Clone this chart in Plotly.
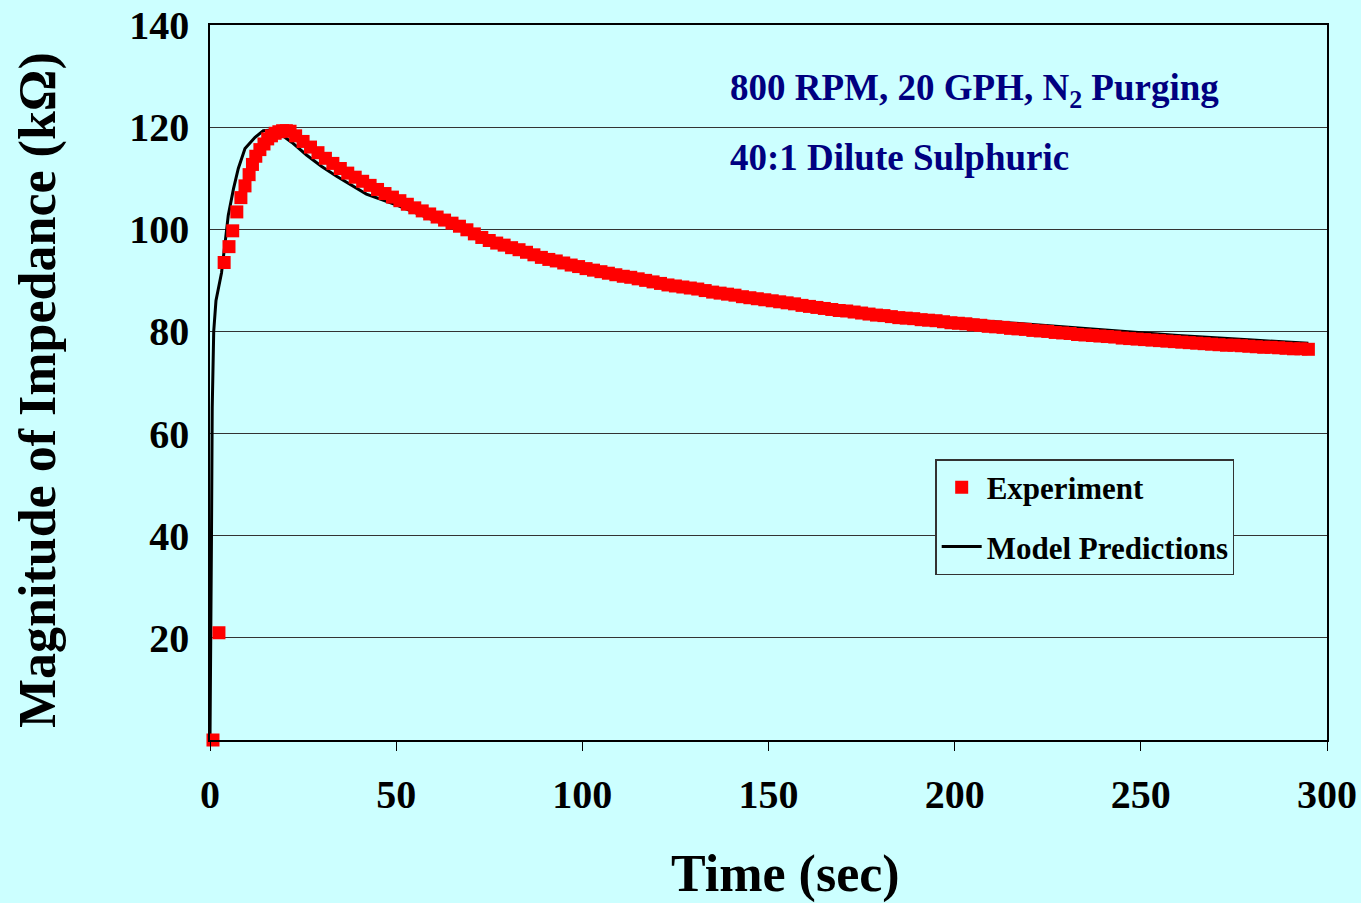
import plotly.graph_objects as go

# Measured impedance magnitude (kOhm) vs time (s)
exp_time = [0.8, 2.4, 3.8, 5.1, 6.1, 7.2, 8.3, 9.4, 10.5, 11.4, 12.3, 13.4, 14.5, 15.5,
            16.5, 17.5, 18.5, 19.5, 20.5, 21.5,
            23, 25, 27, 29, 31, 33, 35, 37, 39, 41, 43, 45, 47, 49, 51, 53, 55, 57, 59,
            61, 63, 65, 67, 69, 71, 73, 75, 77, 79, 81, 83, 85, 87, 89, 91, 93, 95, 97, 99,
            101, 103, 105, 107, 109, 111, 113, 115, 117, 119, 121, 123, 125, 127, 129,
            131, 133, 135, 137, 139, 141, 143, 145, 147, 149, 151, 153, 155, 157, 159,
            161, 163, 165, 167, 169, 171, 173, 175, 177, 179, 181, 183, 185, 187, 189,
            191, 193, 195, 197, 199, 201, 203, 205, 207, 209, 211, 213, 215, 217, 219,
            221, 223, 225, 227, 229, 231, 233, 235, 237, 239, 241, 243, 245, 247, 249,
            251, 253, 255, 257, 259, 261, 263, 265, 267, 269, 271, 273, 275, 277, 279,
            281, 283, 285, 287, 289, 291, 293, 295]
exp_impedance = [0.0, 21.0, 93.5, 96.6, 99.7, 103.4, 106.2, 108.5, 110.7, 112.7, 114.3, 115.6, 116.7, 117.7,
                 118.3, 118.8, 119.1, 119.3, 119.3, 119.2,
                 118.3, 117.2, 116.1, 115.0, 113.9, 112.9, 111.9, 111.0, 110.2, 109.4, 108.6, 107.8, 107.0, 106.3, 105.6, 104.9, 104.2, 103.6, 103.0,
                 102.4, 101.8, 101.2, 100.6, 99.9, 99.1, 98.4, 97.8, 97.3, 96.9, 96.4, 96.0, 95.5, 95.0, 94.5, 94.1, 93.8, 93.4, 93.0, 92.7,
                 92.3, 92.0, 91.7, 91.4, 91.1, 90.8, 90.6, 90.3, 90.0, 89.7, 89.4, 89.1, 88.9, 88.7, 88.5,
                 88.3, 88.0, 87.7, 87.5, 87.3, 87.1, 86.8, 86.6, 86.4, 86.2, 86.0, 85.8, 85.6, 85.4, 85.1,
                 84.9, 84.7, 84.5, 84.3, 84.1, 84.0, 83.8, 83.6, 83.4, 83.2, 83.1, 82.9, 82.7, 82.6, 82.5,
                 82.3, 82.2, 82.1, 81.9, 81.7, 81.6, 81.5, 81.3, 81.2, 81.0, 80.9, 80.8, 80.6, 80.5, 80.4,
                 80.2, 80.1, 80.0, 79.8, 79.7, 79.6, 79.4, 79.3, 79.2, 79.1, 79.0, 78.9, 78.7, 78.6, 78.5,
                 78.4, 78.3, 78.2, 78.1, 78.0, 77.9, 77.8, 77.7, 77.6, 77.5, 77.4, 77.3, 77.3, 77.2, 77.1,
                 77.0, 76.9, 76.9, 76.8, 76.7, 76.6, 76.6, 76.5]

# Model prediction curve
model_time = [0, 0.2, 0.4, 0.6, 1.0, 1.6, 2.5, 3.1, 4.0, 4.9, 6.3, 7.6, 9.4, 12.1, 14.3,
              17.5, 19.0, 22.0, 26, 30, 34, 38, 42, 50, 60, 70, 80, 90, 100, 120, 140,
              160, 180, 200, 220, 240, 260, 280, 295]
model_impedance = [0, 15, 40, 65, 80, 86, 89, 91.5, 97, 102.7, 107.9, 111.9, 115.8, 118.0, 119.3,
                   119.5, 118.6, 117.0, 114.5, 112.3, 110.4, 108.6, 106.9, 104.8, 101.8, 99.2, 96.7, 94.4, 92.5, 89.8, 87.4,
                   85.3, 83.7, 82.5, 81.4, 80.3, 79.2, 78.3, 77.7]

x_ticks = [0, 50, 100, 150, 200, 250, 300]
y_ticks = [20, 40, 60, 80, 100, 120, 140]

BG = "#CCFFFF"
SERIF = "Liberation Serif"

fig = go.Figure()

fig.add_trace(go.Scatter(
    x=model_time, y=model_impedance, mode="lines", name="Model Predictions",
    line=dict(color="black", width=3), legendrank=2, legendgroup="model",
))
fig.add_trace(go.Scatter(
    x=exp_time, y=exp_impedance, mode="markers", name="Experiment",
    marker=dict(symbol="square", size=13, color="#FF0000", line=dict(width=0)),
    cliponaxis=False, legendrank=1, legendgroup="exp",
))

fig.add_annotation(
    x=0.4637, y=0.909, xref="paper", yref="paper", xanchor="left", yanchor="middle",
    text="800 RPM, 20 GPH, N<sub>2</sub> Purging", showarrow=False,
    font=dict(family=SERIF, size=37, color="#000080", weight="bold"),
)
fig.add_annotation(
    x=0.4637, y=0.815, xref="paper", yref="paper", xanchor="left", yanchor="middle",
    text="40:1 Dilute Sulphuric", showarrow=False,
    font=dict(family=SERIF, size=37, color="#000080", weight="bold"),
)

# Axis titles
fig.add_annotation(
    x=0.5148, y=-0.187, xref="paper", yref="paper", xanchor="center", yanchor="middle",
    text="Time (sec)", showarrow=False,
    font=dict(family=SERIF, size=52, color="black", weight="bold"),
)
fig.add_annotation(
    x=-0.154, y=0.4895, xref="paper", yref="paper", xanchor="center", yanchor="middle",
    text="Magnitude of Impedance (kΩ)", showarrow=False, textangle=-90,
    font=dict(family=SERIF, size=52, color="black", weight="bold"),
)

fig.update_xaxes(
    range=[0, 300], tickvals=x_ticks, ticktext=[str(v) for v in x_ticks],
    showgrid=False, zeroline=False, automargin=False,
    showline=True, mirror=True, linecolor="black", linewidth=1.5,
    ticks="outside", ticklen=9, tickcolor="black", ticklabelstandoff=9,
    tickfont=dict(family=SERIF, size=40, color="black", weight="bold"),
)
fig.update_yaxes(
    range=[0, 140], tickvals=y_ticks, ticktext=[str(v) for v in y_ticks],
    showgrid=True, gridcolor="#333333", gridwidth=1.2, zeroline=False, automargin=False,
    showline=True, mirror=True, linecolor="black", linewidth=1.5,
    ticks="", ticklabelstandoff=11,
    tickfont=dict(family=SERIF, size=40, color="black", weight="bold"),
)

fig.update_layout(
    width=1361, height=903,
    margin=dict(l=210, r=34, t=25, b=163, pad=0, autoexpand=False),
    paper_bgcolor=BG, plot_bgcolor=BG,
    showlegend=True,
    legend=dict(
        x=0.6495, y=0.3924, xanchor="left", yanchor="top",
        bgcolor=BG, bordercolor="#333333", borderwidth=1.2,
        traceorder="grouped", tracegroupgap=16,
        font=dict(family=SERIF, size=31, color="black", weight="bold"),
        itemwidth=40,
    ),
)

fig.write_html("out.html")
